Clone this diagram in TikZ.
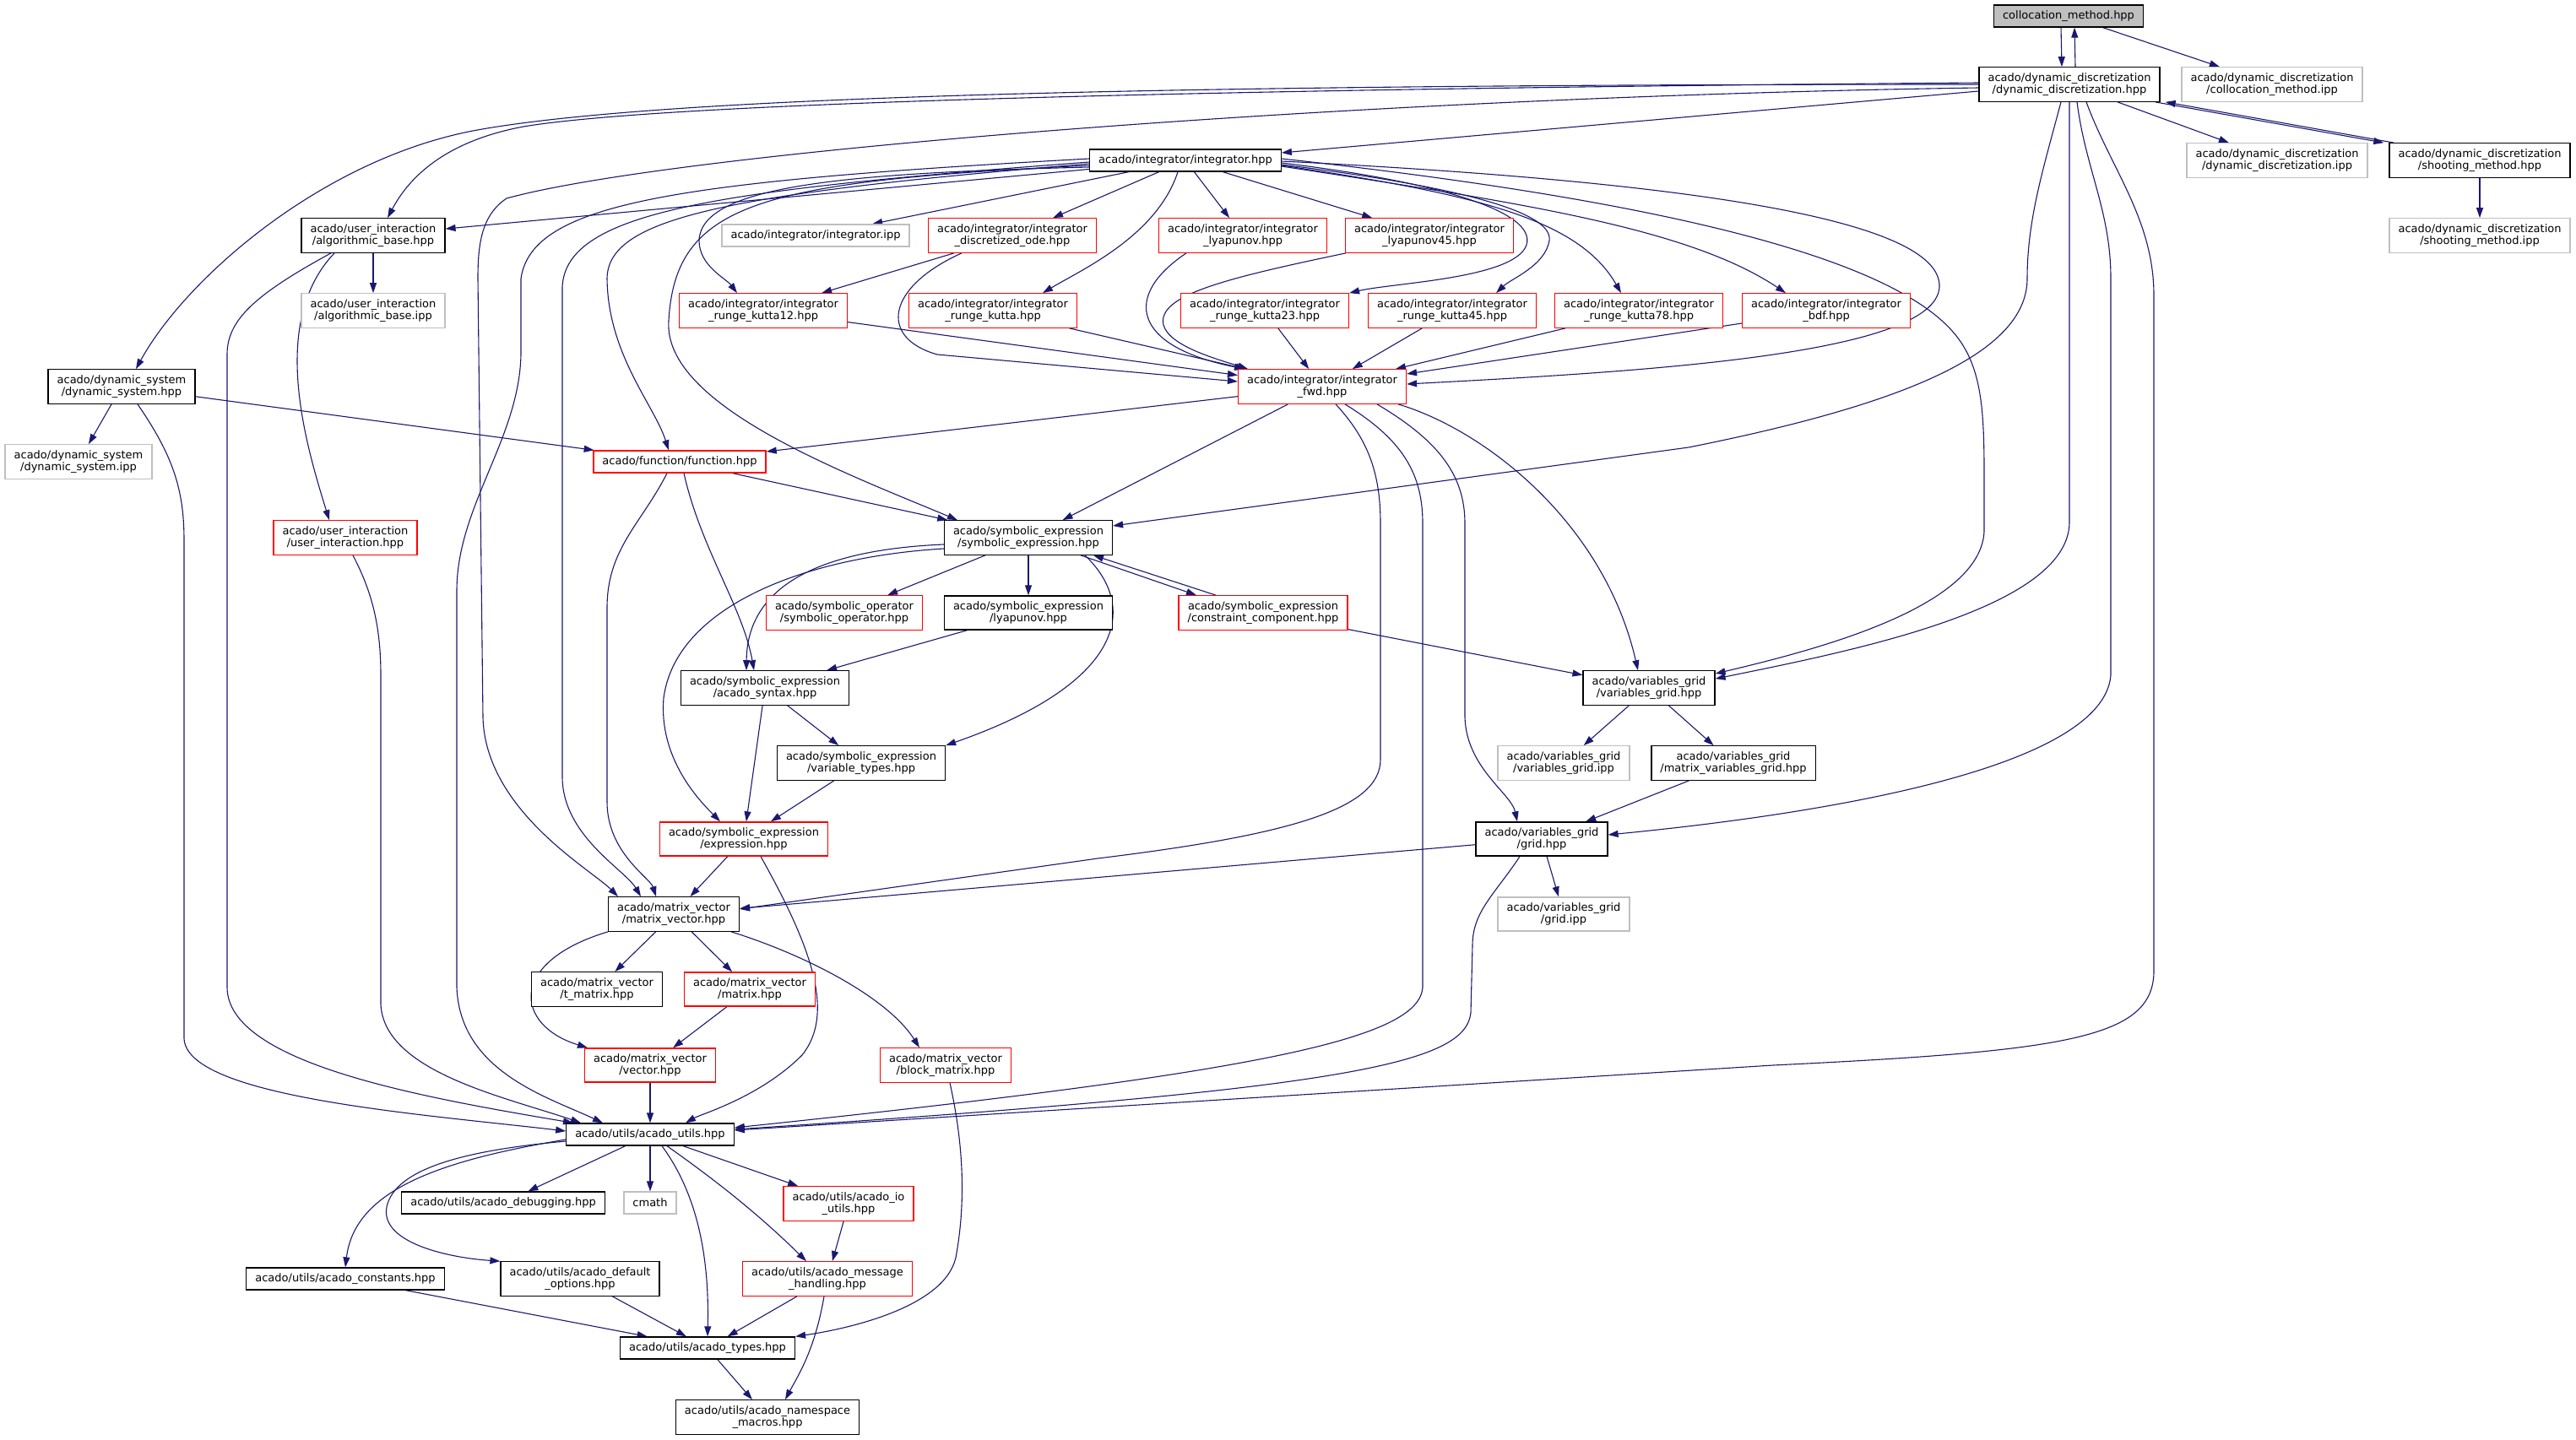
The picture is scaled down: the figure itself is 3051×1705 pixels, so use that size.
\documentclass[tikz,border=0pt]{standalone}
\usepackage{fontspec}
\setmainfont{DejaVu Sans}
\usepackage{tikz}
\usetikzlibrary{arrows.meta, backgrounds}
\definecolor{Navy}{HTML}{191970}
\definecolor{Red} {HTML}{FF0000}
\definecolor{Grey}{HTML}{BFBFBF}
\tikzset{
  hdr/.style={draw=black, line width=1.3pt, fill=white, align=center,
              font=\fontsize{13}{14.5}\selectfont, inner xsep=10.5pt, inner ysep=6.5pt,
              minimum height=26pt},
  trunc/.style={hdr, draw=Red},
  leaf/.style={hdr, draw=Grey},
  inc/.style={-{Triangle[length=12pt,width=8pt]}, draw=Navy, line width=1.1pt}
}
\begin{document}
\begin{tikzpicture}[x=1pt, y=-1pt]
  \useasboundingbox (0,0) rectangle (3051,1705);
  % the file and the dynamic_discretization group
  \node[hdr, fill=Grey] (CM) at (2450,19) {collocation\_method.hpp};
  \node[hdr]   (DD)    at (2451,100)  {acado/dynamic\_discretization\\/dynamic\_discretization.hpp};
  \node[leaf]  (CMI)   at (2691,100)  {acado/dynamic\_discretization\\/collocation\_method.ipp};
  \node[leaf]  (DDI)   at (2697,190)  {acado/dynamic\_discretization\\/dynamic\_discretization.ipp};
  \node[hdr]   (SM)    at (2937,190)  {acado/dynamic\_discretization\\/shooting\_method.hpp};
  \node[leaf]  (SMI)   at (2937,279)  {acado/dynamic\_discretization\\/shooting\_method.ipp};
  % integrators
  \node[hdr]   (INT)   at (1404,190)  {acado/integrator/integrator.hpp};
  \node[hdr]   (AB)    at (442,279)   {acado/user\_interaction\\/algorithmic\_base.hpp};
  \node[leaf]  (ABI)   at (442,368)   {acado/user\_interaction\\/algorithmic\_base.ipp};
  \node[leaf]  (INTI)  at (966,279)   {acado/integrator/integrator.ipp};
  \node[trunc] (DODE)  at (1199,279)  {acado/integrator/integrator\\\_discretized\_ode.hpp};
  \node[trunc] (LYA)   at (1472,279)  {acado/integrator/integrator\\\_lyapunov.hpp};
  \node[trunc] (LYA45) at (1693,279)  {acado/integrator/integrator\\\_lyapunov45.hpp};
  \node[trunc] (RK12)  at (904,368)   {acado/integrator/integrator\\\_runge\_kutta12.hpp};
  \node[trunc] (RK)    at (1176,368)  {acado/integrator/integrator\\\_runge\_kutta.hpp};
  \node[trunc] (RK23)  at (1498,368)  {acado/integrator/integrator\\\_runge\_kutta23.hpp};
  \node[trunc] (RK45)  at (1720,368)  {acado/integrator/integrator\\\_runge\_kutta45.hpp};
  \node[trunc] (RK78)  at (1941,368)  {acado/integrator/integrator\\\_runge\_kutta78.hpp};
  \node[trunc] (BDF)   at (2163,368)  {acado/integrator/integrator\\\_bdf.hpp};
  \node[trunc] (FWD)   at (1566,458)  {acado/integrator/integrator\\\_fwd.hpp};
  \node[hdr]   (DS)    at (144,458)   {acado/dynamic\_system\\/dynamic\_system.hpp};
  \node[leaf]  (DSI)   at (93,547)    {acado/dynamic\_system\\/dynamic\_system.ipp};
  \node[trunc] (FUN)   at (805,547)   {acado/function/function.hpp};
  \node[trunc] (UI)    at (409,637)   {acado/user\_interaction\\/user\_interaction.hpp};
  % symbolic expressions and grids
  \node[hdr]   (SE)    at (1218,637)  {acado/symbolic\_expression\\/symbolic\_expression.hpp};
  \node[trunc] (SOP)   at (1000,726)  {acado/symbolic\_operator\\/symbolic\_operator.hpp};
  \node[hdr]   (SLY)   at (1218,726)  {acado/symbolic\_expression\\/lyapunov.hpp};
  \node[trunc] (CC)    at (1496,726)  {acado/symbolic\_expression\\/constraint\_component.hpp};
  \node[hdr]   (SYN)   at (906,815)   {acado/symbolic\_expression\\/acado\_syntax.hpp};
  \node[hdr]   (VG)    at (1953,815)  {acado/variables\_grid\\/variables\_grid.hpp};
  \node[hdr]   (VT)    at (1020,904)  {acado/symbolic\_expression\\/variable\_types.hpp};
  \node[leaf]  (VGI)   at (1852,904)  {acado/variables\_grid\\/variables\_grid.ipp};
  \node[hdr]   (MVG)   at (2053,904)  {acado/variables\_grid\\/matrix\_variables\_grid.hpp};
  \node[trunc] (EXP)   at (881,994)   {acado/symbolic\_expression\\/expression.hpp};
  \node[hdr]   (GR)    at (1826,994)  {acado/variables\_grid\\/grid.hpp};
  \node[leaf]  (GRI)   at (1852,1083) {acado/variables\_grid\\/grid.ipp};
  % matrix_vector and utils
  \node[hdr]   (MV)    at (798,1083)  {acado/matrix\_vector\\/matrix\_vector.hpp};
  \node[hdr]   (TM)    at (707,1172)  {acado/matrix\_vector\\/t\_matrix.hpp};
  \node[trunc] (MAT)   at (888,1172)  {acado/matrix\_vector\\/matrix.hpp};
  \node[trunc] (VEC)   at (770,1262)  {acado/matrix\_vector\\/vector.hpp};
  \node[trunc] (BM)    at (1120,1262) {acado/matrix\_vector\\/block\_matrix.hpp};
  \node[hdr]   (AU)    at (770,1344)  {acado/utils/acado\_utils.hpp};
  \node[hdr]   (DBG)   at (596,1425)  {acado/utils/acado\_debugging.hpp};
  \node[leaf]  (CMATH) at (770,1425)  {cmath};
  \node[trunc] (IO)    at (1005,1426) {acado/utils/acado\_io\\\_utils.hpp};
  \node[hdr]   (CON)   at (409,1515)  {acado/utils/acado\_constants.hpp};
  \node[hdr]   (DEF)   at (687,1515)  {acado/utils/acado\_default\\\_options.hpp};
  \node[trunc] (MSG)   at (980,1515)  {acado/utils/acado\_message\\\_handling.hpp};
  \node[hdr]   (TYP)   at (838,1597)  {acado/utils/acado\_types.hpp};
  \node[hdr]   (NSM)   at (909,1679)  {acado/utils/acado\_namespace\\\_macros.hpp};

  \begin{scope}[on background layer]
  % straight includes
  \foreach \src/\dst in {CM/CMI, DD/DDI, SM/SMI, INT/LYA, INT/LYA45, INT/DODE, INT/INTI,
      INT/AB, AB/ABI, DS/DSI, DS/FUN, DODE/RK12, RK12/FWD, RK/FWD, RK23/FWD, RK45/FWD,
      RK78/FWD, BDF/FWD, FWD/FUN, FWD/SE, FUN/SE, SE/SOP, SE/SLY, SLY/SYN, SYN/VT, SYN/EXP,
      VT/EXP, CC/VG, VG/VGI, VG/MVG, MVG/GR, GR/GRI, GR/MV, EXP/MV, MV/TM, MV/MAT, MAT/VEC,
      VEC/AU, AU/DBG, AU/CMATH, AU/IO, IO/MSG, CON/TYP, DEF/TYP, MSG/TYP, TYP/NSM}
    {\draw[inc] (\src) -- (\dst);}

  % back and forth
  \draw[inc] ([xshift=-9pt]CM.south) -- ([xshift=-9pt]DD.north);
  \draw[inc] ([xshift=7pt]DD.north) -- ([xshift=7pt]CM.south);
  \draw[inc] ([xshift=-6pt]DD.south east) -- ([xshift=-6pt]SM.north west);
  \draw[inc] ([xshift=6pt]SM.north west) -- ([xshift=6pt]DD.south east);
  \draw[inc] ([xshift=62pt]SE.south) -- ([xshift=-79pt]CC.north);
  \draw[inc] ([xshift=-56pt]CC.north) -- ([xshift=77pt]SE.south);

  % from dynamic_discretization.hpp
  \draw[inc] ([yshift=-8pt]DD.west) -- ([yshift=9pt]INT.east);
  \draw[inc] ([yshift=2pt]DD.west) .. controls (1500,105) and (800,120) .. (620,150)
    .. controls (540,165) and (490,200) .. ([xshift=17pt]AB.north);
  \draw[inc] (DD.west) .. controls (1500,100) and (800,110) .. (560,155)
    .. controls (380,190) and (220,330) .. ([xshift=17pt]DS.north);
  \draw[inc] ([yshift=-4pt]DD.west) .. controls (1600,115) and (800,180) .. (600,235)
    .. controls (570,255) and (566,290) .. (566,330) -- (572,850)
    .. controls (575,960) and (700,1030) .. ([xshift=-66pt]MV.north);
  \draw[inc] ([xshift=-10pt]DD.south) .. controls (2420,200) and (2401,260) .. (2401,330)
    .. controls (2401,420) and (2250,480) .. (2000,530) -- ([yshift=14pt]SE.east);
  \draw[inc] (DD.south) -- (2451,620)
    .. controls (2448,720) and (2200,770) .. ([yshift=-10pt]VG.north east);
  \draw[inc] ([xshift=9pt]DD.south) .. controls (2470,200) and (2500,250) .. (2500,330)
    -- (2500,800) .. controls (2490,920) and (2100,970) .. ([yshift=5pt]GR.east);
  \draw[inc] ([xshift=20pt]DD.south) .. controls (2500,200) and (2551,260) .. (2551,350)
    -- (2551,1150) .. controls (2551,1230) and (2450,1245) .. (2100,1262)
    -- ([yshift=5pt]AU.east);

  % from integrator.hpp
  \draw[inc] ([yshift=2pt]INT.west) .. controls (800,215) and (630,240) .. (617,330)
    -- (617,420) .. controls (615,520) and (541,600) .. (541,700) -- (541,1170)
    .. controls (545,1270) and (650,1300) .. ([xshift=-56pt]AU.north);
  \draw[inc] ([yshift=-2pt]INT.west) .. controls (850,225) and (670,250) .. (666,340)
    -- (666,920) .. controls (666,990) and (740,1030) .. ([xshift=-39pt]MV.north);
  \draw[inc] ([yshift=-4pt]INT.west) .. controls (850,230) and (720,260) .. (719,330)
    .. controls (720,420) and (775,480) .. ([xshift=-13pt]FUN.north);
  \draw[inc] ([yshift=-6pt]INT.west) .. controls (900,215) and (800,240) .. (792,380)
    .. controls (785,480) and (1000,560) .. ([xshift=-84pt]SE.north);
  \draw[inc] ([yshift=-8pt]INT.west) .. controls (1000,205) and (830,220) .. (828,285)
    .. controls (828,315) and (860,330) .. ([xshift=-31pt]RK12.north);
  \draw[inc] ([xshift=-9pt]INT.south) .. controls (1370,280) and (1280,320) .. ([xshift=59pt]RK.north);
  \draw[inc] ([yshift=-3pt]INT.east) .. controls (1700,215) and (1820,250) .. (1808,290)
    .. controls (1795,330) and (1650,335) .. (RK23.north east);
  \draw[inc] ([yshift=-5pt]INT.east) .. controls (1720,220) and (1840,250) .. (1835,285)
    .. controls (1830,315) and (1790,330) .. ([xshift=52pt]RK45.north);
  \draw[inc] ([yshift=-6pt]INT.east) .. controls (1750,230) and (1870,260) .. ([xshift=-21pt]RK78.north);
  \draw[inc] ([yshift=-7pt]INT.east) .. controls (1800,240) and (2000,270) .. ([xshift=-48pt]BDF.north);
  \draw[inc] ([yshift=-1pt]INT.east) .. controls (2000,215) and (2300,260) .. (2297,340)
    .. controls (2293,420) and (1950,440) .. ([yshift=3pt]FWD.east);
  \draw[inc] ([yshift=2pt]INT.east) .. controls (1900,230) and (2200,290) .. (2300,380)
    .. controls (2345,420) and (2350,470) .. (2350,560) -- (2350,630)
    .. controls (2345,720) and (2150,770) .. ([yshift=-4pt]VG.north east);

  % into integrator_fwd.hpp
  \draw[inc] ([xshift=-60pt]DODE.south) .. controls (1050,340) and (1040,400) .. (1110,420)
    -- ([yshift=6pt]FWD.west);
  \draw[inc] ([xshift=-67pt]LYA.south) .. controls (1330,350) and (1340,410) .. ([xshift=-92pt]FWD.north);
  \draw[inc] ([xshift=-99pt]LYA45.south) .. controls (1450,330) and (1370,350) .. (1378,385)
    .. controls (1385,410) and (1440,425) .. ([xshift=-88pt]FWD.north);

  % from integrator_fwd.hpp
  \draw[inc] ([xshift=16pt]FWD.south) .. controls (1620,520) and (1635,560) .. (1635,620)
    -- (1635,900) .. controls (1635,960) and (1520,990) .. (1300,1017) -- ([yshift=6pt]MV.east);
  \draw[inc] ([xshift=27pt]FWD.south) .. controls (1660,520) and (1685,560) .. (1685,620)
    -- (1685,1170) .. controls (1680,1230) and (1500,1270) .. ([yshift=8pt]AU.east);
  \draw[inc] ([xshift=65pt]FWD.south) .. controls (1700,520) and (1735,560) .. (1735,620)
    -- (1735,850) .. controls (1737,910) and (1790,940) .. ([xshift=-29pt]GR.north);
  \draw[inc] ([xshift=90pt]FWD.south) .. controls (1760,510) and (1900,620) .. ([xshift=-13pt]VG.north);

  % dynamic_system, algorithmic_base, user_interaction
  \draw[inc] ([xshift=19pt]DS.south) .. controls (205,540) and (218,580) .. (218,640)
    -- (218,1230) .. controls (220,1300) and (500,1320) .. ([yshift=4pt]AU.west);
  \draw[inc] ([xshift=-46pt]AB.south) .. controls (320,380) and (360,520) .. ([xshift=-19pt]UI.north);
  \draw[inc] ([xshift=-50pt]AB.south) .. controls (300,350) and (269,380) .. (269,420)
    -- (269,1170) .. controls (270,1260) and (500,1300) .. ([xshift=-91pt]AU.north);
  \draw[inc] ([xshift=9pt]UI.south) .. controls (440,700) and (451,740) .. (451,800)
    -- (451,1190) .. controls (455,1270) and (600,1300) .. ([xshift=-82pt]AU.north);

  % function and symbolic expressions
  \draw[inc] ([xshift=-15pt]FUN.south) .. controls (760,620) and (719,650) .. (719,720)
    -- (719,950) .. controls (719,1010) and (770,1040) .. ([xshift=-21pt]MV.north);
  \draw[inc] ([xshift=5pt]FUN.south) .. controls (830,650) and (880,720) .. ([xshift=-13pt]SYN.north);
  \draw[inc] ([yshift=-8pt]SE.west) .. controls (1000,650) and (885,680) .. ([xshift=-22pt]SYN.north);
  \draw[inc] ([yshift=-13pt]SE.west) .. controls (950,660) and (800,720) .. (786,827)
    .. controls (780,900) and (830,950) .. ([xshift=-28pt]EXP.north);
  \draw[inc] ([xshift=67pt]SE.south) .. controls (1350,720) and (1330,810) .. (VT.north east);
  \draw[inc] ([xshift=20pt]EXP.south) .. controls (960,1120) and (990,1200) .. (950,1250)
    .. controls (900,1300) and (830,1320) .. ([xshift=42pt]AU.north);
  \draw[inc] ([xshift=-26pt]GR.south) .. controls (1770,1060) and (1744,1080) .. (1744,1120)
    -- (1742,1200) .. controls (1735,1260) and (1600,1290) .. ([yshift=6pt]AU.east);

  % matrix_vector
  \draw[inc] ([xshift=-78pt]MV.south) .. controls (600,1140) and (610,1215) .. ([xshift=-74pt]VEC.north);
  \draw[inc] ([xshift=68pt]MV.south) .. controls (950,1130) and (1050,1180) .. ([xshift=-31pt]BM.north);
  \draw[inc] ([xshift=5pt]BM.south) .. controls (1140,1350) and (1145,1420) .. (1132,1490)
    .. controls (1118,1550) and (1000,1575) .. (TYP.north east);

  % utils
  \draw[inc] ([xshift=20pt]AU.south) .. controls (850,1400) and (900,1440) .. ([xshift=-25pt]MSG.north);
  \draw[inc] ([xshift=14pt]AU.south) .. controls (830,1420) and (840,1500) .. (TYP.north);
  \draw[inc] ([yshift=-6pt]AU.west) .. controls (520,1375) and (420,1410) .. (CON.north);
  \draw[inc] ([yshift=-8pt]AU.west) .. controls (560,1362) and (468,1382) .. (458,1430)
    .. controls (450,1472) and (530,1490) .. (DEF.north west);
  \draw[inc] ([xshift=-4pt]MSG.south) .. controls (965,1600) and (945,1630) .. ([xshift=21pt]NSM.north);
  \end{scope}
\end{tikzpicture}
\end{document}
